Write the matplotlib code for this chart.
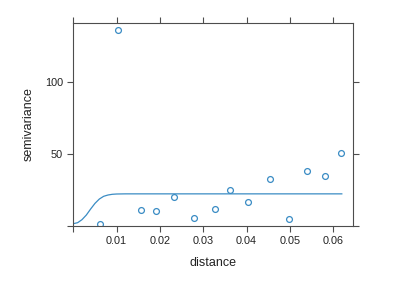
import matplotlib
matplotlib.use("Agg")
import matplotlib.pyplot as plt

plt.rcParams["font.family"] = ["Liberation Sans", "DejaVu Sans"]

# sample variogram points (distance, semivariance)
dist = [0.00608, 0.01038, 0.01554, 0.01915, 0.02315, 0.02777, 0.03277,
        0.03623, 0.04023, 0.04531, 0.04977, 0.05385, 0.05815, 0.06192]
gamma = [1.4, 135.6, 10.6, 10.0, 19.9, 5.1, 11.3,
         24.5, 16.2, 32.4, 4.9, 37.7, 34.7, 50.5]

# fitted model curve
model_x = [0.0, 0.001, 0.002, 0.003, 0.004, 0.005, 0.006, 0.007,
           0.008, 0.009, 0.010, 0.012, 0.062]
model_y = [1.4, 2.1, 4.2, 7.4, 11.6, 15.5, 18.5, 20.4,
           21.3, 21.8, 22.0, 22.1, 22.1]

xticks = [0, 0.01, 0.02, 0.03, 0.04, 0.05, 0.06]
xticklabels = ["", "0.01", "0.02", "0.03", "0.04", "0.05", "0.06"]
yticks = [0, 50, 100]
yticklabels = ["", "50", "100"]

BLUE = "#3a8cc4"
AXC = "#4d4d4d"

fig = plt.figure(figsize=(4.15, 2.88), dpi=100)
ax = fig.add_axes([0.1767, 0.2163, 0.673, 0.703])

ax.plot(model_x, model_y, color=BLUE, lw=0.9)
ax.plot(dist, gamma, "o", ms=4.2, mfc="none", mec=BLUE, mew=0.9)

ax.set_xlim(0, 0.0645)
ax.set_ylim(0, 140.5)
ax.set_xticks(xticks)
ax.set_xticklabels(xticklabels)
ax.set_yticks(yticks)
ax.set_yticklabels(yticklabels)

ax.tick_params(direction="out", length=4.5, width=0.8, color=AXC,
               labelsize=7.8, labelcolor="#222222", top=True, right=True, pad=3)
for s in ax.spines.values():
    s.set_color(AXC)
    s.set_linewidth(0.8)

ax.set_xlabel("distance", fontsize=9, color="#222222", labelpad=8)
ax.set_ylabel("semivariance", fontsize=9, color="#222222", labelpad=7)

fig.savefig("out.png", dpi=100)
